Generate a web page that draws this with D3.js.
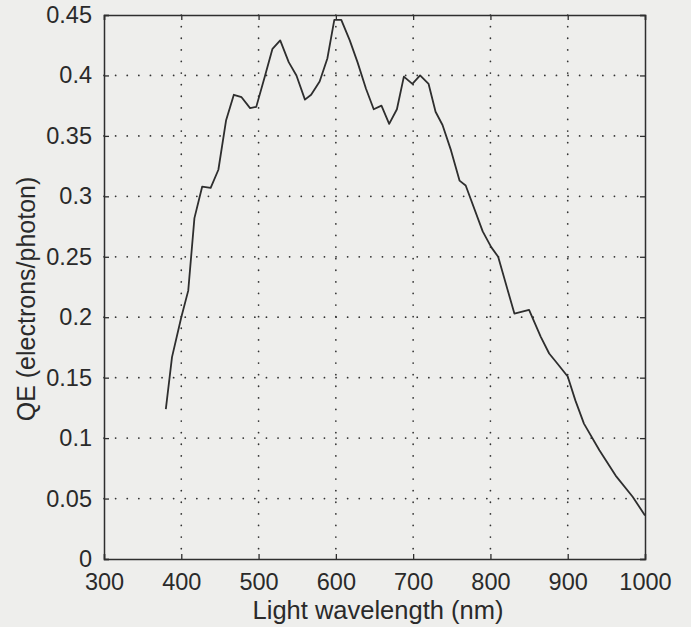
<!DOCTYPE html>
<html>
<head>
<meta charset="utf-8">
<script src="https://cdn.jsdelivr.net/npm/d3@7"></script>
<style>
  body { margin: 0; background: #eeeeec; }
  svg { display: block; }
  .tick text { font-family: "Liberation Sans", Arial, sans-serif; fill: #2a2a2a; }
</style>
</head>
<body>
<div id="chart"></div>
<script>
// wavelength (nm) and QE (electrons/photon)
var wavelength = [380, 388, 400, 409, 417, 427, 438, 448, 458, 468, 478, 489, 497, 508, 518, 528,
                  539, 549, 560, 568, 579, 589, 598, 607, 618, 628, 639, 649, 659, 669, 679, 688,
                  699, 709, 720, 729, 738, 749, 760, 768, 790, 801, 810, 831, 850, 865, 876, 885,
                  900, 910, 921, 941, 962, 984, 1000];
var qe = [0.124, 0.167, 0.200, 0.222, 0.282, 0.308, 0.307, 0.322, 0.363, 0.384, 0.382, 0.373, 0.374,
          0.399, 0.422, 0.429, 0.411, 0.400, 0.380, 0.384, 0.395, 0.414, 0.446, 0.446, 0.429, 0.411,
          0.389, 0.372, 0.375, 0.360, 0.372, 0.399, 0.393, 0.400, 0.393, 0.370, 0.359, 0.338, 0.313,
          0.309, 0.271, 0.258, 0.250, 0.203, 0.206, 0.184, 0.170, 0.163, 0.151, 0.131, 0.112, 0.090,
          0.069, 0.0515, 0.036];
var xTicks = [300, 400, 500, 600, 700, 800, 900, 1000];
var yTicks = [0, 0.05, 0.1, 0.15, 0.2, 0.25, 0.3, 0.35, 0.4, 0.45];

var W = 691, H = 627;
var margin = {top: 15, right: 46, bottom: 68, left: 104};
var width = W - margin.left - margin.right;
var height = H - margin.top - margin.bottom;

var svg = d3.select("#chart").append("svg")
    .attr("width", W)
    .attr("height", H);

var g = svg.append("g")
    .attr("transform", "translate(" + margin.left + "," + margin.top + ")");

var x = d3.scaleLinear().domain([300, 1000]).range([0, width]);
var y = d3.scaleLinear().domain([0, 0.45]).range([height, 0]);

var ink = "#2e2e2e";

// dotted grid
g.append("g").selectAll("line.vg")
    .data(xTicks.slice(1, -1))
    .enter().append("line")
    .attr("x1", function(d) { return x(d); })
    .attr("x2", function(d) { return x(d); })
    .attr("y1", 0).attr("y2", height)
    .attr("stroke", "#333")
    .attr("stroke-width", 1.7)
    .attr("stroke-linecap", "round")
    .attr("stroke-dasharray", "0.1,11.5");

g.append("g").selectAll("line.hg")
    .data(yTicks.slice(1, -1))
    .enter().append("line")
    .attr("x1", 0).attr("x2", width)
    .attr("y1", function(d) { return y(d); })
    .attr("y2", function(d) { return y(d); })
    .attr("stroke", "#333")
    .attr("stroke-width", 1.7)
    .attr("stroke-linecap", "round")
    .attr("stroke-dasharray", "0.1,11.5");

// axes with inward ticks
var fmtY = function(d) { return d === 0 ? "0" : String(+d.toFixed(2)); };
var fmtX = function(d) { return String(d); };

var xAxis = g.append("g")
    .attr("transform", "translate(0," + height + ")")
    .call(d3.axisBottom(x).tickValues(xTicks).tickFormat(fmtX).tickSize(-5).tickPadding(14));
var yAxis = g.append("g")
    .call(d3.axisLeft(y).tickValues(yTicks).tickFormat(fmtY).tickSize(-5).tickPadding(12));
g.append("g")
    .call(d3.axisTop(x).tickValues(xTicks).tickSize(-5).tickFormat(""));
g.append("g")
    .attr("transform", "translate(" + width + ",0)")
    .call(d3.axisRight(y).tickValues(yTicks).tickSize(-5).tickFormat(""));

g.selectAll(".domain").attr("stroke", ink).attr("stroke-width", 1.5);
g.selectAll(".tick line").attr("stroke", ink).attr("stroke-width", 1.3);
g.selectAll(".tick text").style("font-size", "23.5px");
xAxis.selectAll(".tick text").attr("dy", "0.71em");

// the curve
var line = d3.line()
    .x(function(d, i) { return x(wavelength[i]); })
    .y(function(d) { return y(d); });

g.append("path")
    .datum(qe)
    .attr("d", line)
    .attr("fill", "none")
    .attr("stroke", ink)
    .attr("stroke-width", 1.8)
    .attr("stroke-linejoin", "round");

// axis titles
svg.append("text")
    .attr("x", 378)
    .attr("y", 619)
    .attr("text-anchor", "middle")
    .style("font-family", "'Liberation Sans', Arial, sans-serif")
    .style("font-size", "25.5px")
    .attr("fill", "#2a2a2a")
    .text("Light wavelength (nm)");

svg.append("text")
    .attr("transform", "translate(35," + (margin.top + height / 2 + 12) + ") rotate(-90)")
    .attr("text-anchor", "middle")
    .style("font-family", "'Liberation Sans', Arial, sans-serif")
    .style("font-size", "25px")
    .attr("fill", "#2a2a2a")
    .text("QE (electrons/photon)");
</script>
</body>
</html>
